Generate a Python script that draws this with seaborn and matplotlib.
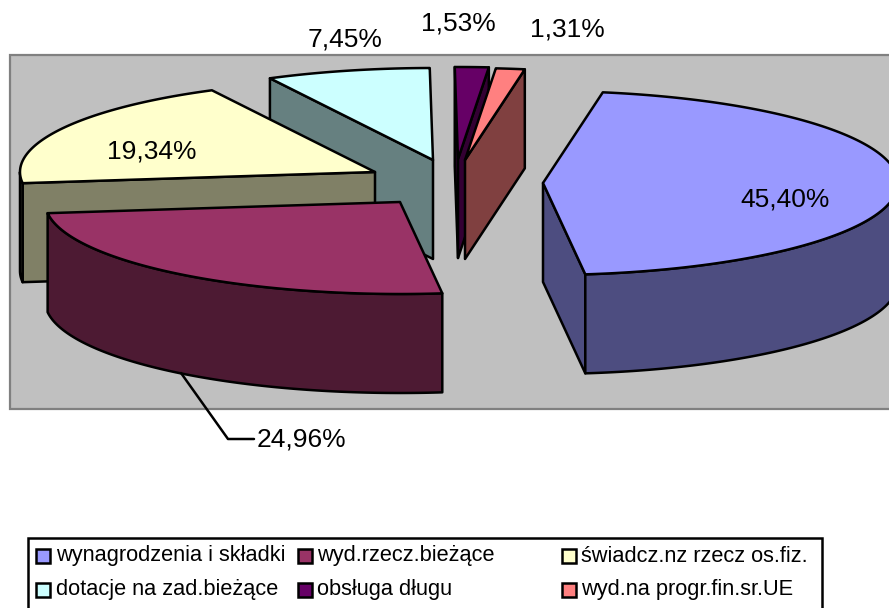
import numpy as np
import seaborn as sns
import matplotlib
matplotlib.use("Agg")
import matplotlib.pyplot as plt
from matplotlib.patches import Polygon, Rectangle

# data
categories = ["wynagrodzenia i składki", "wyd.rzecz.bieżące", "świadcz.nz rzecz os.fiz.",
              "dotacje na zad.bieżące", "obsługa długu", "wyd.na progr.fin.sr.UE"]
shares = [45.40, 24.96, 19.34, 7.45, 1.53, 1.31]
slice_colors = ["#9999FF", "#993366", "#FFFFCC", "#CCFFFF", "#660066", "#FF8080"]

# layout, in pixels of the 889x608 picture
first_angle = 9.7
rx, ry, depth = 355.0, 92.0, 99.0
apexes = [(543, 183), (400, 202), (375, 172), (433, 160), (458, 159), (465, 160)]
label_pos = [(785, 199), (301, 439), (152, 151), (345, 39), (458, 24), (567, 30)]
legend_x = [(36, 56), (298, 317), (562, 581)]
legend_y = [556, 590]
draw_order = [3, 2, 4, 5, 1, 0]

sns.set_theme(style="white")
plt.rcParams["font.family"] = ["Liberation Sans", "DejaVu Sans"]
palette = sns.color_palette(slice_colors)

fig = plt.figure(figsize=(8.89, 6.08), dpi=100)
ax = fig.add_axes([0, 0, 1, 1])
ax.set_xlim(0, 889)
ax.set_ylim(608, 0)
ax.axis("off")

ax.add_patch(Rectangle((10, 55), 900, 354, fc="#C0C0C0", ec="#808080", lw=1.6))


def rim(apex, angles):
    a = np.radians(angles)
    return np.column_stack([apex[0] + rx * np.sin(a), apex[1] - ry * np.cos(a)])


def face(points, color):
    ax.add_patch(Polygon(points, closed=True, fc=color, ec="black", lw=1.8, joinstyle="round"))


def side(apex, angle, color):
    p = rim(apex, [angle])[0]
    a = np.array(apex, dtype=float)
    face([a, p, p + [0, depth], a + [0, depth]], color)


edges = first_angle + np.concatenate([[0], np.cumsum(shares) / sum(shares) * 360])
for i in draw_order:
    start, end = edges[i], edges[i + 1]
    apex = apexes[i]
    dark = tuple(c * 0.5 for c in palette[i])
    # radial sides, only those turned to the viewer
    if np.sin(np.radians(start)) < 0:
        side(apex, start, dark)
    if np.sin(np.radians(end)) > 0:
        side(apex, end, dark)
    # outer wall is seen on the front half of the ellipse
    lo, hi = max(start, 90), min(end, 270)
    if hi > lo:
        top = rim(apex, np.linspace(lo, hi, 120))
        face(np.vstack([top, top[::-1] + [0, depth]]), dark)
    arc = rim(apex, np.linspace(start, end, 200))
    face(np.vstack([[apex], arc]), palette[i])

# percent labels
for value, (x, y) in zip(shares, label_pos):
    ax.text(x, y, f"{value:.2f}%".replace(".", ","), ha="center", va="center",
            fontsize=19, color="black")
ax.plot([181, 228, 254], [373, 439, 439], color="black", lw=1.8)

# legend
ax.add_patch(Rectangle((28, 538), 794, 90, fc="white", ec="black", lw=1.8))
for i, name in enumerate(categories):
    key_x, text_x = legend_x[i % 3]
    y = legend_y[i // 3]
    ax.add_patch(Rectangle((key_x, y - 7), 14, 14, fc=palette[i], ec="black", lw=1.8))
    ax.text(text_x, y, name, ha="left", va="center", fontsize=15.7, color="black")

fig.savefig("out.png", dpi=100)
